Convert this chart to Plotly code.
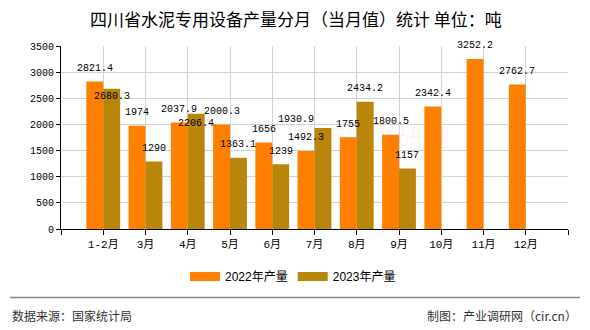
import plotly.graph_objects as go

months = ["1-2月", "3月", "4月", "5月", "6月", "7月", "8月", "9月", "10月", "11月", "12月"]
prod_2022 = [2821.4, 1974, 2037.9, 2000.3, 1656, 1492.3, 1755, 1800.5, 2342.4, 3252.2, 2762.7]
prod_2023 = [2680.3, 1290, 2206.4, 1363.1, 1239, 1930.9, 2434.2, 1157, None, None, None]
y_ticks = [0, 500, 1000, 1500, 2000, 2500, 3000, 3500]

C22 = "#FF8000"
C23 = "#B8860B"
MONO = "Liberation Mono, Noto Sans CJK SC, monospace"
CJK = "Noto Sans CJK SC, sans-serif"

# label nudges (pixel offsets) for overlapping labels: (series, index) -> (dx, dy)
NUDGE = {("2023", 0): (0, -21), ("2023", 2): (0, -23), ("2023", 5): (-27, -4)}

# pixel helpers for the plot area (left 61, right 568, top 45.7, bottom 229.3)
PL, PR, PT, PB = 61, 568, 45.7, 229.3
def px(xp):
    return (xp - PL) / (PR - PL)
def py(yp):
    return (PB - yp) / (PB - PT)

x = list(range(len(months)))
fig = go.Figure()
fig.add_trace(go.Bar(x=x, y=prod_2022, name="2022年产量", showlegend=False,
                     marker=dict(color=C22, line=dict(width=0))))
fig.add_trace(go.Bar(x=x, y=prod_2023, name="2023年产量", showlegend=False,
                     marker=dict(color=C23, line=dict(width=0))))
# legend entries drawn as short thick strokes (rectangular swatches)
for name, col in (("2022年产量", C22), ("2023年产量", C23)):
    fig.add_trace(go.Scatter(x=[None], y=[None], mode="lines", name=name,
                             line=dict(color=col, width=9)))

for key, vals, off in (("2022", prod_2022, -0.2), ("2023", prod_2023, 0.2)):
    for i, v in enumerate(vals):
        if v is None:
            continue
        dx, dy = NUDGE.get((key, i), (0, 0))
        fig.add_annotation(x=i + off, y=v, xref="x", yref="y", text=f"{v:g}", showarrow=False,
                           font=dict(family=MONO, size=10, color="#000"),
                           yanchor="middle", xanchor="center", yshift=13 + dy, xshift=dx)

fig.add_annotation(text="四川省水泥专用设备产量分月（当月值）统计 单位：吨", xref="paper", yref="paper",
                   x=px(296), y=py(18), xanchor="center", yanchor="middle",
                   showarrow=False, font=dict(family=CJK, size=17, color="#000"))
fig.add_annotation(text="数据来源：国家统计局", xref="paper", yref="paper",
                   x=px(10), y=py(316), xanchor="left", yanchor="middle",
                   showarrow=False, font=dict(family=CJK, size=12, color="#333"))
fig.add_annotation(text="制图：产业调研网（cir.cn）", xref="paper", yref="paper",
                   x=px(579), y=py(316), xanchor="right", yanchor="middle",
                   showarrow=False, font=dict(family=CJK, size=12, color="#333"))
fig.add_annotation(text="产业调研网", xref="paper", yref="paper",
                   x=px(385), y=py(135), xanchor="center", yanchor="middle",
                   showarrow=False, font=dict(family=CJK, size=26, color="rgba(255,80,80,0.07)"))
fig.add_shape(type="line", xref="paper", yref="paper", x0=px(10), x1=px(580),
              y0=py(298), y1=py(298), line=dict(color="#888", width=1.5))

fig.update_layout(
    width=590, height=330,
    margin=dict(l=PL, r=590 - PR, t=PT, b=330 - PB),
    paper_bgcolor="white", plot_bgcolor="white",
    barmode="group", bargap=0.2, bargroupgap=0,
    showlegend=True,
    legend=dict(orientation="h", x=px(293), y=py(277), xanchor="center", yanchor="middle",
                font=dict(family="Liberation Sans, Noto Sans CJK SC", size=12, color="#000"),
                itemwidth=30, traceorder="normal"),
    xaxis=dict(range=[-1, 11], tickmode="array", tickvals=list(range(-1, 12)),
               ticktext=[""] + months + [""], showgrid=True, gridcolor="#D3D3D3", gridwidth=1,
               showline=True, linecolor="#000", linewidth=1, ticks="outside", ticklen=5, tickcolor="#000",
               tickfont=dict(family=MONO, size=11, color="#000"), zeroline=False, fixedrange=True),
    yaxis=dict(range=[0, 3500], tickmode="array", tickvals=y_ticks, showgrid=True, gridcolor="#D3D3D3",
               showline=True, linecolor="#000", linewidth=1, ticks="outside", ticklen=4, tickcolor="#000",
               tickfont=dict(family=MONO, size=10, color="#000"), zeroline=False, fixedrange=True),
)

fig.write_html("out.html")
